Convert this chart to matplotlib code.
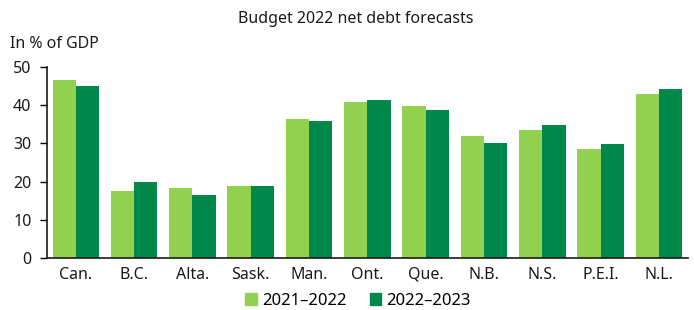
import numpy as np
import matplotlib
matplotlib.use('Agg')
import matplotlib.pyplot as plt
from matplotlib.patches import Patch

regions = ['Can.', 'B.C.', 'Alta.', 'Sask.', 'Man.', 'Ont.', 'Que.', 'N.B.', 'N.S.', 'P.E.I.', 'N.L.']
fy2122 = [46.5, 17.6, 18.4, 18.9, 36.4, 40.8, 39.8, 31.9, 33.5, 28.5, 42.9]
fy2223 = [45.0, 19.9, 16.5, 18.9, 35.8, 41.3, 38.7, 30.1, 34.8, 29.8, 44.2]
series_names = ['2021\u20132022', '2022\u20132023']
yticks = [0, 10, 20, 30, 40, 50]

light = '#92d050'
dark = '#00884a'

plt.rcParams['font.family'] = ['Noto Sans', 'DejaVu Sans']

fig = plt.figure(figsize=(6.94, 3.10), dpi=100)
ax = fig.add_axes([46.7 / 694, 1 - 258.3 / 310, (688 - 46.7) / 694, (258.3 - 66.7) / 310])

x = np.arange(len(regions))
w = 0.4
ax.bar(x - w / 2, fy2122, w, color=light, linewidth=0)
ax.bar(x + w / 2, fy2223, w, color=dark, linewidth=0)

ax.set_xlim(-0.5, len(regions) - 0.5)
ax.set_ylim(0, 50)
ax.set_yticks(yticks)
ax.set_xticks(x)
ax.set_xticklabels(regions, fontsize=11.5, color='#1a1a1a')
ax.tick_params(axis='x', length=0, pad=6)
ax.tick_params(axis='y', length=5, width=1, pad=6, labelsize=11.5, labelcolor='#1a1a1a')
for s in ['top', 'right']:
    ax.spines[s].set_visible(False)
ax.spines['left'].set_linewidth(1.2)
ax.spines['bottom'].set_linewidth(1.2)
ax.spines['left'].set_color('#1a1a1a')
ax.spines['bottom'].set_color('#1a1a1a')

fig.text(356 / 694, 1 - 19 / 310, 'Budget 2022 net debt forecasts', ha='center', va='center',
         fontsize=11.5, color='#1a1a1a')
fig.text(10 / 694, 1 - 44 / 310, 'In % of GDP', ha='left', va='center', fontsize=11.5, color='#1a1a1a')

handles = [Patch(color=light), Patch(color=dark)]
fig.legend(handles, series_names, loc='center', bbox_to_anchor=(358 / 694, 1 - 301 / 310),
           ncol=2, frameon=False, fontsize=12, handlelength=0.7, handleheight=0.7,
           handletextpad=0.3, columnspacing=1.4, borderpad=0)

fig.savefig('out.png', dpi=100)
